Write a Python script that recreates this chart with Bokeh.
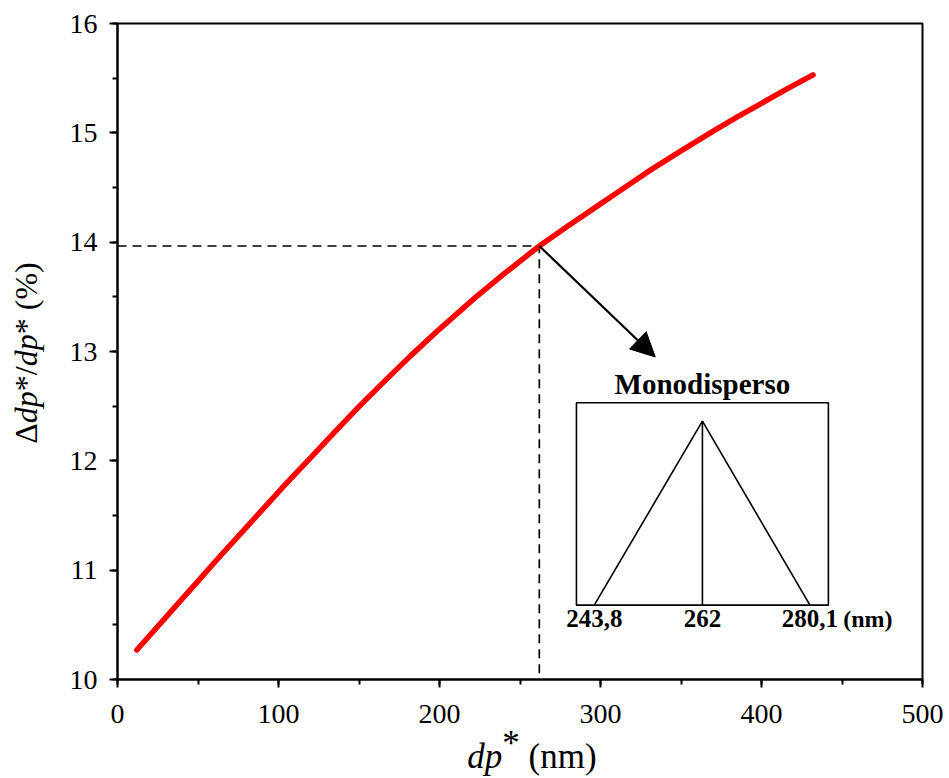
import math
from bokeh.plotting import figure
from bokeh.layouts import column, row
from bokeh.models import Range1d, Arrow, NormalHead, SingleIntervalTicker, Div
from bokeh.core.properties import value
from bokeh.embed import file_html
from bokeh.resources import INLINE

# ---- data ----
dp = [12, 37, 50, 62, 83, 104, 120, 135, 150, 167, 182, 200, 222, 240, 262,
      280, 295, 310, 329, 350, 370, 385, 400, 415, 432]
ratio = [10.27, 10.685, 10.90, 11.10, 11.44, 11.78, 12.03, 12.265, 12.495, 12.745, 12.96,
         13.205, 13.49, 13.71, 13.965, 14.15, 14.30, 14.45, 14.64, 14.835, 15.015,
         15.145, 15.27, 15.395, 15.53]

highlight_dp = 262
highlight_ratio = 13.965

inset_values = [243.8, 262, 280.1]
inset_labels = ["243,8", "262", "280,1"]
inset_unit = "(nm)"
inset_title = "Monodisperso"

x_label_html = "<i>dp</i><span style='position:relative;top:-13px'>*</span> (nm)"
y_label_html = "&Delta;<i>dp</i>*/<i>dp</i>* (%)"

SERIF = "Liberation Serif"

p = figure(frame_width=805, frame_height=656,
           min_border_left=67, min_border_right=27, min_border_top=23, min_border_bottom=60,
           x_range=Range1d(0, 500), y_range=Range1d(10, 16),
           output_backend="svg", toolbar_location=None, margin=0)
p.background_fill_color = "white"
p.border_fill_color = "white"
p.xgrid.visible = False
p.ygrid.visible = False
p.outline_line_color = "black"
p.outline_line_width = 2
p.outline_line_alpha = 1

p.xaxis.ticker = SingleIntervalTicker(interval=100, num_minor_ticks=2)
p.yaxis.ticker = SingleIntervalTicker(interval=1, num_minor_ticks=2)
for ax in (p.xaxis, p.yaxis):
    ax.axis_line_width = 2
    ax.axis_line_color = "black"
    ax.major_tick_line_width = 2
    ax.minor_tick_line_width = 2
    ax.major_tick_line_color = "black"
    ax.minor_tick_line_color = "black"
    ax.major_tick_in = 0
    ax.major_tick_out = 8
    ax.minor_tick_in = 0
    ax.minor_tick_out = 5
    ax.major_label_text_font = SERIF
    ax.major_label_text_font_size = "28px"
    ax.major_label_text_color = "black"
p.xaxis.major_label_standoff = 17
p.yaxis.major_label_standoff = 12

# inset coordinate system
p.extra_x_ranges = {"inset": Range1d(163.56, 299.04)}
p.extra_y_ranges = {"inset": Range1d(-0.404, 3.161)}

# dashed guide lines
p.line(x=[p.x_range.start, highlight_dp, highlight_dp],
       y=[highlight_ratio, highlight_ratio, p.y_range.start],
       line_color="black", line_width=1.7, line_dash="9 6")

# main curve
p.line(x=dp, y=ratio, line_color="red", line_width=5.5, line_cap="round", line_join="round")

# arrow
p.add_layout(Arrow(x_start=highlight_dp, y_start=highlight_ratio, x_end=334, y_end=12.95,
                   line_color="black", line_width=2.2,
                   end=NormalHead(size=24, fill_color="black", line_color="black", line_width=1)))

# inset box
p.quad(left=[inset_values[0] - 3.0], right=[inset_values[2] + 3.1], bottom=[0], top=[1.10],
       fill_color=None, line_color="black", line_width=1.6,
       x_range_name="inset", y_range_name="inset")
p.line(x=inset_values, y=[0, 1, 0], line_color="black", line_width=1.6,
       x_range_name="inset", y_range_name="inset")
p.segment(x0=[inset_values[1]], y0=[0], x1=[inset_values[1]], y1=[1],
          line_color="black", line_width=1.6,
          x_range_name="inset", y_range_name="inset")
p.text(x=inset_values, y=[-0.073] * 3, text=inset_labels,
       text_font=value(SERIF), text_font_style="bold", text_font_size="25px",
       text_align="center", text_baseline="alphabetic", text_color="black",
       x_range_name="inset", y_range_name="inset")
p.text(x=[285.7], y=[-0.073], text=[inset_unit],
       text_font=value(SERIF), text_font_style="bold", text_font_size="24px",
       text_align="left", text_baseline="alphabetic", text_color="black",
       x_range_name="inset", y_range_name="inset")
p.text(x=[inset_values[1]], y=[1.20], text=[inset_title],
       text_font=value(SERIF), text_font_style="bold", text_font_size="29px",
       text_align="center", text_baseline="alphabetic", text_color="black",
       x_range_name="inset", y_range_name="inset")

BASE_CSS = "font-family:'Liberation Serif','Times New Roman',serif;color:black;white-space:nowrap;"

y_div = Div(width=50, height=739, margin=0,
            text=("<div style='position:relative;width:50px;height:739px;'>"
                  "<span style=\"position:absolute;left:0;top:0;" + BASE_CSS +
                  "font-size:32px;line-height:32px;"
                  "transform-origin:0 0;transform:translate(10px,353px) rotate(-90deg) translate(-50%,0);\">"
                  + y_label_html + "</span></div>"))

x_div = Div(width=949, height=39, margin=0,
            text=("<div style='position:relative;width:949px;height:39px;'>"
                  "<span style=\"position:absolute;left:532px;top:0px;" + BASE_CSS +
                  "font-size:35px;line-height:35px;"
                  "transform:translateX(-50%);\">" + x_label_html + "</span></div>"))

layout = column(row(y_div, p, spacing=0, margin=0), x_div, spacing=0, margin=0)

open("out.html", "w").write(file_html(layout, INLINE))
